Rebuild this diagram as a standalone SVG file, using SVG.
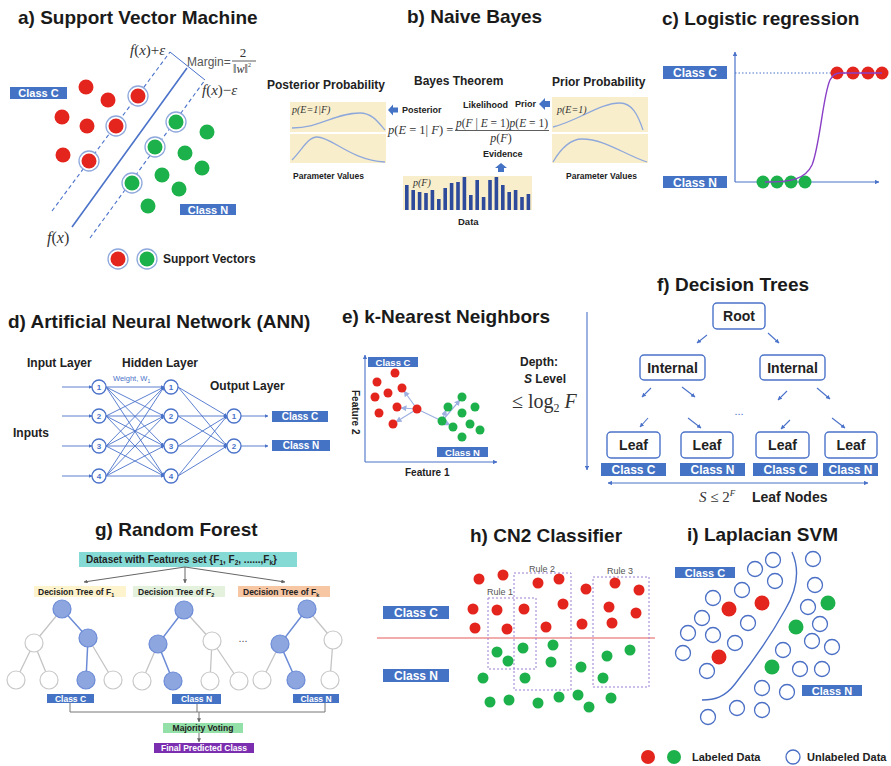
<svg xmlns="http://www.w3.org/2000/svg" width="891" height="766" viewBox="0 0 891 766">
<defs>
<style>
.t{font-family:"Liberation Sans",Arial,sans-serif;font-weight:bold;font-size:19px;fill:#1a1a1a}
.b{font-family:"Liberation Sans",Arial,sans-serif;font-weight:bold;fill:#222}
.r{font-family:"Liberation Sans",Arial,sans-serif;fill:#555}
.m{font-family:"Liberation Serif","Times New Roman",serif;fill:#333}
.i{font-style:italic}
.lab{fill:#4472c4}
.lt{font-family:"Liberation Sans",Arial,sans-serif;font-weight:bold;fill:#fff;text-anchor:middle}
.red{fill:#e3251e}
.grn{fill:#1db14b}
.ln{stroke:#4a72c9;fill:none}
.bx{fill:#fff;stroke:#4a72c9;stroke-width:1.4}
.nd{fill:#fff;stroke:#4a72c9;stroke-width:1.3}
.nt{font-family:"Liberation Sans",Arial,sans-serif;font-weight:bold;font-size:8px;fill:#4a72c9;text-anchor:middle}
.beige{fill:#f8eecb}
.gedge{stroke:#c4c4c4;stroke-width:1.3;fill:none}
.bedge{stroke:#6b8bd6;stroke-width:1.5;fill:none}
.wc{fill:#fff;stroke:#c8c8c8;stroke-width:1.2}
.bc{fill:#8ea6df;stroke:#6b8bd6;stroke-width:1.2}
.uc{fill:#fff;stroke:#4a6fc5;stroke-width:1.3}
.rule{fill:none;stroke:#9a7fd0;stroke-width:1;stroke-dasharray:2 2}
</style>
<marker id="ah" viewBox="0 0 6 6" refX="5.5" refY="3" markerWidth="5" markerHeight="5" orient="auto-start-reverse"><path d="M0,0 L6,3 L0,6 z" fill="#4a72c9"/></marker>
<marker id="ahs" viewBox="0 0 6 6" refX="5.5" refY="3" markerWidth="4" markerHeight="4" orient="auto-start-reverse"><path d="M0,0 L6,3 L0,6 z" fill="#4a72c9"/></marker>
<marker id="ahg" viewBox="0 0 6 6" refX="5.5" refY="3" markerWidth="4" markerHeight="4" orient="auto"><path d="M0,0 L6,3 L0,6 z" fill="#666"/></marker>
<marker id="ahk" viewBox="0 0 6 6" refX="5.5" refY="3" markerWidth="5" markerHeight="5" orient="auto"><path d="M0,0 L6,3 L0,6 z" fill="#9db0e0"/></marker>
</defs>
<rect width="891" height="766" fill="#fff"/>

<!-- a) Support Vector Machine -->
<g id="svm">
<text class="t" x="18" y="24">a) Support Vector Machine</text>
<g id="svm-lines" class="ln">
<line x1="52" y1="211" x2="170" y2="52" stroke-width="1.1" stroke-dasharray="4 3"/>
<line x1="72" y1="227" x2="187" y2="68" stroke-width="1.6"/>
<line x1="90" y1="238" x2="205" y2="80" stroke-width="1.1" stroke-dasharray="4 3"/>
<line x1="170" y1="52" x2="205" y2="80" stroke-width="1"/>
</g>
<rect class="lab" x="10" y="87" width="57" height="12"/>
<text class="lt" x="38.5" y="97" font-size="11">Class C</text>
<rect class="lab" x="180" y="204" width="56" height="11"/>
<text class="lt" x="208" y="213.5" font-size="11">Class N</text>
<g stroke="#8fa8dc" stroke-width="1.3" fill="#fff">
<circle cx="138" cy="96" r="10"/><circle cx="116" cy="126" r="10"/><circle cx="89" cy="161" r="10"/>
<circle cx="176" cy="122" r="10"/><circle cx="155" cy="147" r="10"/><circle cx="132" cy="183" r="10"/>
<circle cx="118" cy="259" r="10"/><circle cx="147" cy="259" r="10"/>
</g>
<g class="red">
<circle cx="86" cy="87" r="7.5"/><circle cx="108" cy="100" r="7.5"/><circle cx="138" cy="96" r="7.5"/>
<circle cx="62" cy="117" r="7.5"/><circle cx="87" cy="126" r="7.5"/><circle cx="116" cy="126" r="7.5"/>
<circle cx="63" cy="155" r="7.5"/><circle cx="89" cy="161" r="7.5"/><circle cx="118" cy="259" r="7.5"/>
</g>
<g class="grn">
<circle cx="176" cy="122" r="7.5"/><circle cx="207" cy="132" r="7.5"/><circle cx="155" cy="147" r="7.5"/>
<circle cx="185" cy="153" r="7.5"/><circle cx="202" cy="168" r="7.5"/><circle cx="162" cy="175" r="7.5"/>
<circle cx="132" cy="183" r="7.5"/><circle cx="179" cy="189" r="7.5"/><circle cx="148" cy="206" r="7.5"/>
<circle cx="147" cy="259" r="7.5"/>
</g>
<text class="m" x="130" y="55" font-size="15"><tspan class="i">f</tspan>(<tspan class="i">x</tspan>)+<tspan class="i">ε</tspan></text>
<text class="r" x="187" y="66" font-size="12" fill="#333">Margin=</text>
<text class="m" x="243" y="57" font-size="13" text-anchor="middle">2</text>
<line x1="232" y1="61" x2="256" y2="61" stroke="#333" stroke-width="0.8"/>
<text class="m" x="242" y="73" font-size="12" text-anchor="middle">‖<tspan class="i">w</tspan>‖<tspan font-size="6" dy="-6">2</tspan></text>
<text class="m" x="202" y="95" font-size="15"><tspan class="i">f</tspan>(<tspan class="i">x</tspan>)−<tspan class="i">ε</tspan></text>
<text class="m" x="47" y="243" font-size="16"><tspan class="i">f</tspan>(<tspan class="i">x</tspan>)</text>
<text class="b" x="163" y="263" font-size="12">Support Vectors</text>
</g>

<!-- b) Naive Bayes -->
<g id="naive-bayes">
<text class="t" x="407" y="23">b) Naive Bayes</text>
<text class="b" x="267" y="89" font-size="12">Posterior Probability</text>
<text class="b" x="414" y="85" font-size="12">Bayes Theorem</text>
<text class="b" x="552" y="86" font-size="12">Prior Probability</text>
<g id="posterior-plots">
<rect class="beige" x="290" y="102" width="96" height="30"/>
<rect class="beige" x="290" y="134" width="96" height="29"/>
<path d="M292,128 C320,128 335,113 360,113 C372,113 378,122 385,130" fill="none" stroke="#8fa8dc" stroke-width="1.3"/>
<path d="M292,160 C302,150 308,137 317,137 C332,137 350,160 385,162" fill="none" stroke="#8fa8dc" stroke-width="1.3"/>
<text class="m i" x="292" y="113" font-size="10" fill="#555">p(E=1|F)</text>
<text class="b" x="293" y="179" font-size="8.5" fill="#333">Parameter Values</text>
</g>
<g id="prior-plots">
<rect class="beige" x="552" y="97" width="96" height="35"/>
<rect class="beige" x="552" y="134" width="96" height="29"/>
<path d="M553,127 C580,120 600,103 620,103 C632,103 638,115 643,130" fill="none" stroke="#8fa8dc" stroke-width="1.3"/>
<path d="M553,162 C560,150 570,139 582,139 C605,139 625,155 647,162" fill="none" stroke="#8fa8dc" stroke-width="1.3"/>
<text class="m i" x="557" y="113" font-size="10" fill="#555">p(E=1)</text>
<text class="b" x="566" y="179" font-size="8.5" fill="#333">Parameter Values</text>
</g>
<g id="bayes-arrows" fill="#4472c4">
<polygon points="388,110 393,104.5 393,107.5 398,107.5 398,112.5 393,112.5 393,115.5"/>
<polygon points="539,104 545,98 545,101 550,101 550,107 545,107 545,110"/>
<polygon points="501,163 507,168 504,168 504,172 498,172 498,168 495,168"/>
</g>
<text class="b" x="402" y="113" font-size="9">Posterior</text>
<text class="b" x="463" y="108" font-size="9">Likelihood</text>
<text class="b" x="515" y="107" font-size="9">Prior</text>
<text class="b" x="483" y="157" font-size="9">Evidence</text>
<text class="m" x="388" y="134" font-size="12.5"><tspan class="i">p</tspan>(<tspan class="i">E</tspan> = 1| <tspan class="i">F</tspan>) =</text>
<text class="m" x="456" y="127" font-size="11.5"><tspan class="i">p</tspan>(<tspan class="i">F</tspan> | <tspan class="i">E</tspan> = 1)<tspan class="i">p</tspan>(<tspan class="i">E</tspan> = 1)</text>
<line x1="455" y1="130.5" x2="549" y2="130.5" stroke="#333" stroke-width="0.8"/>
<text class="m" x="501" y="142" font-size="12" text-anchor="middle"><tspan class="i">p</tspan>(<tspan class="i">F</tspan>)</text>
<g id="data-bars">
<rect class="beige" x="403" y="176" width="129" height="34"/>
<g fill="#2e4a9a">
<rect x="405" y="185" width="3.6" height="25"/><rect x="411.4" y="190" width="3.6" height="20"/>
<rect x="417.8" y="192" width="3.6" height="18"/><rect x="424.2" y="193" width="3.6" height="17"/>
<rect x="430.6" y="190" width="3.6" height="20"/><rect x="437" y="199" width="3.6" height="11"/>
<rect x="443.4" y="188" width="3.6" height="22"/><rect x="449.8" y="183" width="3.6" height="27"/>
<rect x="456.2" y="182" width="3.6" height="28"/><rect x="462.6" y="177" width="3.6" height="33"/>
<rect x="469" y="195" width="3.6" height="15"/><rect x="475.4" y="180" width="3.6" height="30"/>
<rect x="481.8" y="197" width="3.6" height="13"/><rect x="488.2" y="180" width="3.6" height="30"/>
<rect x="494.6" y="177" width="3.6" height="33"/><rect x="501" y="185" width="3.6" height="25"/>
<rect x="507.4" y="192" width="3.6" height="18"/><rect x="513.8" y="190" width="3.6" height="20"/>
<rect x="520.2" y="197" width="3.6" height="13"/><rect x="526.6" y="194" width="3.6" height="16"/>
</g>
<text class="m i" x="413" y="186" font-size="10" fill="#444">p(F)</text>
<text class="b" x="458" y="225" font-size="9.5">Data</text>
</g>
</g>

<!-- c) Logistic regression -->
<g id="logistic">
<text class="t" x="662" y="25">c) Logistic regression</text>
<line class="ln" x1="735" y1="182" x2="735" y2="52" stroke-width="1.2" marker-end="url(#ahs)"/>
<line class="ln" x1="735" y1="182" x2="879" y2="182" stroke-width="1.2" marker-end="url(#ahs)"/>
<line x1="735" y1="73" x2="882" y2="73" stroke="#4a72c9" stroke-width="1" stroke-dasharray="1.5 2"/>
<rect class="lab" x="663" y="66" width="64" height="13"/>
<text class="lt" x="695" y="77" font-size="12">Class C</text>
<rect class="lab" x="663" y="176" width="64" height="12"/>
<text class="lt" x="695" y="186.5" font-size="12">Class N</text>
<g class="red">
<circle cx="837" cy="73" r="6.5"/><circle cx="853" cy="73" r="6.5"/><circle cx="868" cy="73" r="6.5"/><circle cx="882" cy="73" r="6.5"/>
</g>
<g class="grn">
<circle cx="763" cy="182" r="6.5"/><circle cx="777" cy="182" r="6.5"/><circle cx="791" cy="182" r="6.5"/><circle cx="805" cy="182" r="6.5"/>
</g>
<path d="M765,182 C790,182 805,180 812,165 C820,145 823,95 830,80 C833,74 836,73 840,73 L882,73" fill="none" stroke="#8a3fc7" stroke-width="1.4"/>
</g>

<!-- d) Artificial Neural Network -->
<g id="ann">
<text class="t" x="8" y="328">d) Artificial Neural Network (ANN)</text>
<text class="b" x="27" y="367" font-size="12">Input Layer</text>
<text class="b" x="122" y="367" font-size="12">Hidden Layer</text>
<text class="b" x="210" y="390" font-size="12">Output Layer</text>
<text class="b" x="13" y="437" font-size="12">Inputs</text>
<text x="113" y="381" font-family="Liberation Sans, Arial, sans-serif" font-size="7.5" fill="#4a72c9">Weight, W<tspan font-size="5" dy="2">1</tspan></text>
<g id="ann-links" class="ln" stroke-width="0.9" marker-end="url(#ahs)">
<line x1="62" y1="387" x2="92" y2="387"/><line x1="62" y1="416" x2="92" y2="416"/>
<line x1="62" y1="446" x2="92" y2="446"/><line x1="62" y1="476" x2="92" y2="476"/>
<line x1="106" y1="387" x2="164" y2="387"/><line x1="106" y1="387" x2="164" y2="416"/><line x1="106" y1="387" x2="164" y2="446"/><line x1="106" y1="387" x2="164" y2="476"/>
<line x1="106" y1="416" x2="164" y2="387"/><line x1="106" y1="416" x2="164" y2="416"/><line x1="106" y1="416" x2="164" y2="446"/><line x1="106" y1="416" x2="164" y2="476"/>
<line x1="106" y1="446" x2="164" y2="387"/><line x1="106" y1="446" x2="164" y2="416"/><line x1="106" y1="446" x2="164" y2="446"/><line x1="106" y1="446" x2="164" y2="476"/>
<line x1="106" y1="476" x2="164" y2="387"/><line x1="106" y1="476" x2="164" y2="416"/><line x1="106" y1="476" x2="164" y2="446"/><line x1="106" y1="476" x2="164" y2="476"/>
<line x1="178" y1="387" x2="227" y2="416"/><line x1="178" y1="387" x2="227" y2="446"/>
<line x1="178" y1="416" x2="227" y2="416"/><line x1="178" y1="416" x2="227" y2="446"/>
<line x1="178" y1="446" x2="227" y2="416"/><line x1="178" y1="446" x2="227" y2="446"/>
<line x1="178" y1="476" x2="227" y2="416"/><line x1="178" y1="476" x2="227" y2="446"/>
<line x1="241" y1="416" x2="268" y2="416"/><line x1="241" y1="446" x2="268" y2="446"/>
</g>
<g id="ann-nodes">
<circle class="nd" cx="99" cy="387" r="7"/><circle class="nd" cx="99" cy="416" r="7"/><circle class="nd" cx="99" cy="446" r="7"/><circle class="nd" cx="99" cy="476" r="7"/>
<circle class="nd" cx="171" cy="387" r="7"/><circle class="nd" cx="171" cy="416" r="7"/><circle class="nd" cx="171" cy="446" r="7"/><circle class="nd" cx="171" cy="476" r="7"/>
<circle class="nd" cx="234" cy="416" r="7"/><circle class="nd" cx="234" cy="446" r="7"/>
<text class="nt" x="99" y="390">1</text><text class="nt" x="99" y="419">2</text><text class="nt" x="99" y="449">3</text><text class="nt" x="99" y="479">4</text>
<text class="nt" x="171" y="390">1</text><text class="nt" x="171" y="419">2</text><text class="nt" x="171" y="449">3</text><text class="nt" x="171" y="479">4</text>
<text class="nt" x="234" y="419">1</text><text class="nt" x="234" y="449">2</text>
</g>
<rect class="lab" x="272" y="411" width="56" height="11"/>
<text class="lt" x="300" y="420" font-size="10">Class C</text>
<rect class="lab" x="272" y="440" width="58" height="11"/>
<text class="lt" x="301" y="449" font-size="10">Class N</text>
</g>

<!-- e) k-Nearest Neighbors -->
<g id="knn">
<text class="t" x="342" y="323">e) k-Nearest Neighbors</text>
<line class="ln" x1="365" y1="462" x2="365" y2="355" stroke-width="1.1" marker-end="url(#ahs)"/>
<line class="ln" x1="365" y1="462" x2="497" y2="462" stroke-width="1.1" marker-end="url(#ahs)"/>
<rect class="lab" x="368" y="357" width="50" height="10"/>
<text class="lt" x="393" y="365.5" font-size="9.5">Class C</text>
<rect class="lab" x="437" y="447" width="51" height="10"/>
<text class="lt" x="462.5" y="455.5" font-size="9.5">Class N</text>
<text class="b" transform="translate(352,390) rotate(90)" font-size="10">Feature 2</text>
<text class="b" x="405" y="476" font-size="10">Feature 1</text>
<g id="knn-links" stroke="#9db0e0" stroke-width="1.2" fill="none">
<line x1="417" y1="409" x2="404" y2="391" marker-end="url(#ahk)"/>
<line x1="417" y1="409" x2="401" y2="408" marker-end="url(#ahk)"/>
<line x1="417" y1="409" x2="396" y2="422" marker-end="url(#ahk)"/>
<line x1="417" y1="409" x2="442" y2="421"/>
<line x1="442" y1="421" x2="460" y2="400" marker-end="url(#ahk)"/>
<line x1="442" y1="421" x2="446" y2="410" marker-end="url(#ahk)"/>
<line x1="442" y1="421" x2="450" y2="425" marker-end="url(#ahk)"/>
</g>
<g class="red">
<circle cx="395" cy="373" r="4.5"/><circle cx="377" cy="382" r="4.5"/><circle cx="402" cy="388" r="4.5"/>
<circle cx="388" cy="393" r="4.5"/><circle cx="375" cy="397" r="4.5"/><circle cx="397" cy="407" r="4.5"/>
<circle cx="417" cy="409" r="4.5"/><circle cx="379" cy="413" r="4.5"/><circle cx="393" cy="424" r="4.5"/>
</g>
<g class="grn">
<circle cx="462" cy="397" r="4.5"/><circle cx="448" cy="407" r="4.5"/><circle cx="475" cy="407" r="4.5"/>
<circle cx="462" cy="413" r="4.5"/><circle cx="442" cy="421" r="4.5"/><circle cx="470" cy="424" r="4.5"/>
<circle cx="453" cy="427" r="4.5"/><circle cx="480" cy="430" r="4.5"/><circle cx="462" cy="437" r="4.5"/>
</g>
</g>

<!-- f) Decision Trees -->
<g id="decision-tree">
<text class="t" x="657" y="291">f) Decision Trees</text>
<text class="b" x="520" y="366" font-size="12">Depth:</text>
<text class="b" x="524" y="383" font-size="12"><tspan class="i">S</tspan> Level</text>
<text class="m" x="512" y="408" font-size="20">≤ log<tspan font-size="12" dy="4">2</tspan><tspan class="i" dy="-4"> F</tspan></text>
<line class="ln" x1="587" y1="312" x2="587" y2="470" stroke-width="1.1" marker-end="url(#ahs)"/>
<g id="dt-edges" class="ln" stroke-width="1.1" marker-end="url(#ahs)">
<line x1="707" y1="335" x2="697" y2="343"/><line x1="768" y1="333" x2="779" y2="343"/>
<line x1="651" y1="388" x2="642" y2="397"/><line x1="682" y1="387" x2="695" y2="397"/>
<line x1="787" y1="391" x2="778" y2="400"/><line x1="817" y1="388" x2="830" y2="399"/>
<line x1="648" y1="418" x2="640" y2="427"/><line x1="688" y1="418" x2="701" y2="428"/>
<line x1="790" y1="420" x2="781" y2="429"/><line x1="832" y1="418" x2="845" y2="428"/>
</g>
<text x="739" y="415" font-family="Liberation Sans, Arial, sans-serif" font-size="11" fill="#4a72c9" text-anchor="middle">...</text>
<g id="dt-root"><rect class="bx" x="713" y="303" width="52" height="26" rx="4"/><text class="b" x="739" y="321" font-size="14" text-anchor="middle">Root</text></g>
<g id="dt-int1"><rect class="bx" x="640" y="355" width="65" height="25" rx="4"/><text class="b" x="672.5" y="372.5" font-size="14" text-anchor="middle">Internal</text></g>
<g id="dt-int2"><rect class="bx" x="760" y="355" width="65" height="25" rx="4"/><text class="b" x="792.5" y="372.5" font-size="14" text-anchor="middle">Internal</text></g>
<g id="dt-leaf1"><rect class="bx" x="607" y="432" width="53" height="26" rx="4"/><text class="b" x="633.5" y="450" font-size="14" text-anchor="middle">Leaf</text>
<rect class="lab" x="601" y="463" width="65" height="13"/><text class="lt" x="633.5" y="474" font-size="12">Class C</text></g>
<g id="dt-leaf2"><rect class="bx" x="681" y="432" width="52" height="26" rx="4"/><text class="b" x="707" y="450" font-size="14" text-anchor="middle">Leaf</text>
<rect class="lab" x="680" y="463" width="65" height="13"/><text class="lt" x="712.5" y="474" font-size="12">Class N</text></g>
<g id="dt-leaf3"><rect class="bx" x="756" y="432" width="53" height="26" rx="4"/><text class="b" x="782.5" y="450" font-size="14" text-anchor="middle">Leaf</text>
<rect class="lab" x="753" y="463" width="65" height="13"/><text class="lt" x="785.5" y="474" font-size="12">Class C</text></g>
<g id="dt-leaf4"><rect class="bx" x="825" y="432" width="52" height="26" rx="4"/><text class="b" x="851" y="450" font-size="14" text-anchor="middle">Leaf</text>
<rect class="lab" x="823" y="463" width="55" height="13"/><text class="lt" x="850.5" y="474" font-size="12">Class N</text></g>
<line class="ln" x1="608" y1="483" x2="868" y2="483" stroke-width="1.1" marker-start="url(#ahs)" marker-end="url(#ahs)"/>
<text class="m" x="699" y="502" font-size="15"><tspan class="i">S</tspan> ≤ 2<tspan class="i" font-size="9" dy="-6">F</tspan></text>
<text class="b" x="752" y="502" font-size="14">Leaf Nodes</text>
</g>

<!-- g) Random Forest -->
<g id="random-forest">
<text class="t" x="95" y="536">g) Random Forest</text>
<rect x="79" y="552" width="218" height="15" fill="#85dad6"/>
<text class="b" x="86" y="563" font-size="10" fill="#1f3d3d">Dataset with Features set {F<tspan font-size="6.5" dy="2">1</tspan><tspan dy="-2">, F</tspan><tspan font-size="6.5" dy="2">2</tspan><tspan dy="-2">, ......,F</tspan><tspan font-size="6.5" dy="2">k</tspan><tspan dy="-2">}</tspan></text>
<g id="rf-split" stroke="#666" stroke-width="1" fill="none" marker-end="url(#ahg)">
<line x1="185" y1="567" x2="84" y2="582"/><line x1="185" y1="567" x2="185" y2="583"/><line x1="185" y1="567" x2="285" y2="582"/>
</g>
<rect x="34" y="586" width="92" height="11" fill="#fdf3cc"/>
<text class="b" x="38" y="594.5" font-size="8.5" fill="#555">Decision Tree of  F<tspan font-size="5.5" dy="2">1</tspan></text>
<rect x="133" y="586" width="92" height="11" fill="#e4f1dc"/>
<text class="b" x="138" y="594.5" font-size="8.5" fill="#555">Decision Tree of  F<tspan font-size="5.5" dy="2">2</tspan></text>
<rect x="238" y="586" width="92" height="11" fill="#f7c6a3"/>
<text class="b" x="243" y="594.5" font-size="8.5" fill="#555">Decision Tree of  F<tspan font-size="5.5" dy="2">k</tspan></text>
<g id="rf-tree1">
<path class="gedge" d="M62,609 L34,643 M34,643 L16,680 M34,643 L49,680 M88,638 L113,680"/>
<path class="bedge" d="M62,609 L88,638 L86,680"/>
<circle class="bc" cx="62" cy="609" r="9"/><circle class="wc" cx="34" cy="643" r="9"/><circle class="bc" cx="88" cy="638" r="9"/>
<circle class="wc" cx="16" cy="680" r="9"/><circle class="wc" cx="49" cy="680" r="9"/><circle class="bc" cx="86" cy="680" r="9"/><circle class="wc" cx="113" cy="680" r="9"/>
</g>
<g id="rf-tree2">
<path class="gedge" d="M184,610 L212,641 M158,644 L142,681 M212,641 L210,681 M212,641 L239,681"/>
<path class="bedge" d="M184,610 L158,644 L173,681"/>
<circle class="bc" cx="184" cy="610" r="9"/><circle class="bc" cx="158" cy="644" r="9"/><circle class="wc" cx="212" cy="641" r="9"/>
<circle class="wc" cx="142" cy="681" r="9"/><circle class="bc" cx="173" cy="681" r="9"/><circle class="wc" cx="210" cy="681" r="9"/><circle class="wc" cx="239" cy="681" r="9"/>
</g>
<text x="243" y="642" font-family="Liberation Sans, Arial, sans-serif" font-size="11" fill="#555" text-anchor="middle">...</text>
<g id="rf-tree3">
<path class="gedge" d="M307,609 L333,640 M280,644 L262,680 M333,640 L330,680"/>
<path class="bedge" d="M307,609 L280,644 L296,680"/>
<circle class="bc" cx="307" cy="609" r="9"/><circle class="bc" cx="280" cy="644" r="9"/><circle class="wc" cx="333" cy="640" r="9"/>
<circle class="wc" cx="262" cy="680" r="9"/><circle class="bc" cx="296" cy="680" r="9"/><circle class="wc" cx="330" cy="680" r="9"/>
</g>
<rect class="lab" x="47" y="694" width="47" height="9"/><text class="lt" x="70.5" y="701.5" font-size="8.5">Class C</text>
<rect class="lab" x="172" y="694" width="49" height="10"/><text class="lt" x="196.5" y="702" font-size="8.5">Class N</text>
<rect class="lab" x="293" y="694" width="46" height="9"/><text class="lt" x="316" y="701.5" font-size="8.5">Class N</text>
<g id="rf-vote" stroke="#777" stroke-width="1" fill="none">
<path d="M70,703 L70,712 L325,712 L325,703 M197,704 L197,712"/>
<line x1="199" y1="712" x2="199" y2="722" marker-end="url(#ahg)"/>
<line x1="199" y1="733" x2="199" y2="742" marker-end="url(#ahg)"/>
</g>
<rect x="163" y="723" width="80" height="10" fill="#93e0a8"/>
<text class="b" x="203" y="731" font-size="8.5" fill="#2d4a2d" text-anchor="middle">Majority Voting</text>
<rect x="154" y="743" width="100" height="10" fill="#7b2fb0"/>
<text class="lt" x="204" y="751" font-size="8.5">Final Predicted Class</text>
</g>

<!-- h) CN2 Classifier -->
<g id="cn2">
<text class="t" x="470" y="542">h) CN2 Classifier</text>
<rect class="lab" x="383" y="606" width="66" height="13"/>
<text class="lt" x="416" y="617" font-size="12">Class C</text>
<rect class="lab" x="383" y="669" width="66" height="13"/>
<text class="lt" x="416" y="680" font-size="12">Class N</text>
<line x1="377" y1="638" x2="655" y2="638" stroke="#e85a5a" stroke-width="1.2"/>
<rect class="rule" x="488" y="598" width="48" height="71"/>
<rect class="rule" x="514" y="573" width="57" height="117"/>
<rect class="rule" x="593" y="577" width="56" height="110"/>
<text class="r" x="487" y="595" font-size="9">Rule 1</text>
<text class="r" x="529" y="572" font-size="9">Rule 2</text>
<text class="r" x="607" y="574" font-size="9">Rule 3</text>
<g class="red">
<circle cx="479" cy="579" r="5.5"/><circle cx="503" cy="575" r="5.5"/><circle cx="538" cy="583" r="5.5"/>
<circle cx="559" cy="579" r="5.5"/><circle cx="586" cy="589" r="5.5"/><circle cx="615" cy="583" r="5.5"/>
<circle cx="639" cy="590" r="5.5"/><circle cx="473" cy="609" r="5.5"/><circle cx="497" cy="610" r="5.5"/>
<circle cx="524" cy="609" r="5.5"/><circle cx="563" cy="604" r="5.5"/><circle cx="609" cy="607" r="5.5"/>
<circle cx="636" cy="613" r="5.5"/><circle cx="475" cy="628" r="5.5"/><circle cx="507" cy="629" r="5.5"/>
<circle cx="546" cy="627" r="5.5"/><circle cx="582" cy="624" r="5.5"/><circle cx="612" cy="623" r="5.5"/>
</g>
<g class="grn">
<circle cx="497" cy="652" r="5.5"/><circle cx="508" cy="661" r="5.5"/><circle cx="523" cy="648" r="5.5"/>
<circle cx="553" cy="645" r="5.5"/><circle cx="551" cy="662" r="5.5"/><circle cx="581" cy="667" r="5.5"/>
<circle cx="607" cy="656" r="5.5"/><circle cx="630" cy="650" r="5.5"/><circle cx="483" cy="678" r="5.5"/>
<circle cx="525" cy="678" r="5.5"/><circle cx="603" cy="678" r="5.5"/><circle cx="490" cy="702" r="5.5"/>
<circle cx="509" cy="700" r="5.5"/><circle cx="538" cy="703" r="5.5"/><circle cx="559" cy="697" r="5.5"/>
<circle cx="578" cy="695" r="5.5"/><circle cx="589" cy="707" r="5.5"/><circle cx="611" cy="698" r="5.5"/>
</g>
</g>

<!-- i) Laplacian SVM -->
<g id="laplacian-svm">
<text class="t" x="687" y="541">i) Laplacian SVM</text>
<rect class="lab" x="675" y="567" width="60" height="11"/>
<text class="lt" x="705" y="576.5" font-size="11">Class C</text>
<rect class="lab" x="802" y="685" width="60" height="11"/>
<text class="lt" x="832" y="694.5" font-size="11">Class N</text>
<path d="M792,552 C800,570 797,590 785,610 C770,637 750,665 735,684 C725,697 715,700 702,700" fill="none" stroke="#4a6fc5" stroke-width="1.4"/>
<g id="unlabeled">
<circle class="uc" cx="773" cy="560" r="7.5"/><circle class="uc" cx="755" cy="569" r="7.5"/><circle class="uc" cx="813" cy="559" r="7.5"/>
<circle class="uc" cx="775" cy="581" r="7.5"/><circle class="uc" cx="742" cy="590" r="7.5"/><circle class="uc" cx="815" cy="585" r="7.5"/>
<circle class="uc" cx="713" cy="598" r="7.5"/><circle class="uc" cx="808" cy="607" r="7.5"/><circle class="uc" cx="702" cy="618" r="7.5"/>
<circle class="uc" cx="748" cy="623" r="7.5"/><circle class="uc" cx="820" cy="624" r="7.5"/><circle class="uc" cx="688" cy="633" r="7.5"/>
<circle class="uc" cx="713" cy="635" r="7.5"/><circle class="uc" cx="735" cy="643" r="7.5"/><circle class="uc" cx="812" cy="641" r="7.5"/>
<circle class="uc" cx="832" cy="647" r="7.5"/><circle class="uc" cx="783" cy="650" r="7.5"/><circle class="uc" cx="683" cy="653" r="7.5"/>
<circle class="uc" cx="707" cy="671" r="7.5"/><circle class="uc" cx="800" cy="669" r="7.5"/><circle class="uc" cx="822" cy="669" r="7.5"/>
<circle class="uc" cx="762" cy="688" r="7.5"/><circle class="uc" cx="787" cy="692" r="7.5"/><circle class="uc" cx="708" cy="717" r="7.5"/>
<circle class="uc" cx="737" cy="708" r="7.5"/><circle class="uc" cx="762" cy="710" r="7.5"/>
</g>
<g class="red"><circle cx="729" cy="609" r="7.5"/><circle cx="762" cy="603" r="7.5"/><circle cx="719" cy="657" r="7.5"/></g>
<g class="grn"><circle cx="828" cy="603" r="7.5"/><circle cx="796" cy="627" r="7.5"/><circle cx="772" cy="667" r="7.5"/></g>
<g id="lap-legend">
<circle class="red" cx="648" cy="757" r="7"/><circle class="grn" cx="674" cy="757" r="7"/>
<text class="b" x="692" y="761" font-size="11">Labeled Data</text>
<circle class="uc" cx="793" cy="757" r="7"/>
<text class="b" x="807" y="761" font-size="11">Unlabeled Data</text>
</g>
</g>
</svg>
